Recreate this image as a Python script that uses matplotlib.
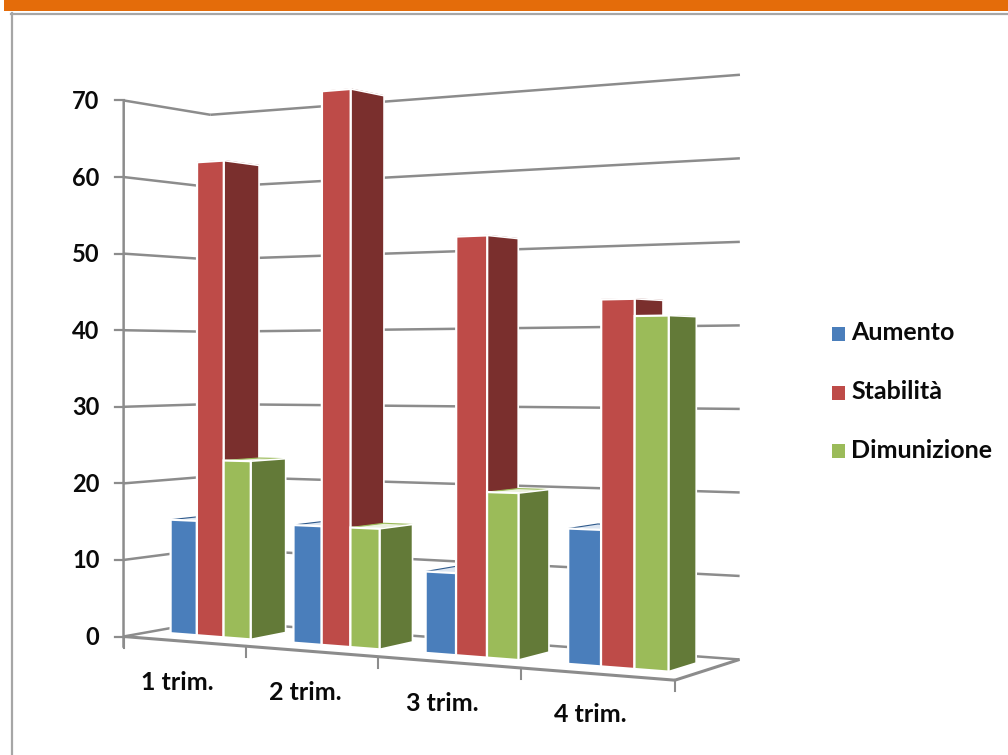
import numpy as np
import matplotlib
matplotlib.use("Agg")
import matplotlib.pyplot as plt
from matplotlib.patches import Rectangle

categories = ["1 trim.", "2 trim.", "3 trim.", "4 trim."]
aumento = [15, 15, 10, 16]
stabilita = [62, 70, 51, 43]
dimunizione = [23, 15, 20, 41]
series_names = ["Aumento", "Stabilità", "Dimunizione"]
y_ticks = [0, 10, 20, 30, 40, 50, 60, 70]

front_colors = ["#4A7EBB", "#BE4B48", "#9BBB59"]
side_colors = ["#2F5A8C", "#7A2F2D", "#637A38"]
top_colors = ["#DCE6F2", "#7A2F2D", "#EBF1DE"]
top_edges = ["#2F5A8C", "#7A2F2D", "#9BBB59"]
grid_color = "#8C8C8C"

# (category, depth, value) -> pixel pairs for the chart box
anchors_3d = np.array([
    [0, 0, 0], [0, 0, 70], [0, 1, 0], [0, 1, 70], [4, 1, 0], [4, 1, 70],
    [4, 0, 0], [1, 0, 0], [2, 0, 0], [3, 0, 0],
], dtype=float)
anchors_px = np.array([
    [124, 636], [124, 100], [210, 621], [210, 115], [740, 659], [740, 75],
    [675, 680], [246, 647], [378, 657], [520, 668],
], dtype=float)


def fit_camera(world, pixels):
    rows = []
    for (u, d, h), (x, y) in zip(world / [4, 1, 70], pixels / 1000):
        p = [u, d, h, 1]
        rows.append(p + [0, 0, 0, 0] + [-x * c for c in p])
        rows.append([0, 0, 0, 0] + p + [-y * c for c in p])
    return np.linalg.svd(np.array(rows))[2][-1].reshape(3, 4)


camera = fit_camera(anchors_3d, anchors_px)


def project(u, d, h):
    x, y, w = camera @ np.array([u / 4, d, h / 70, 1.0])
    return 1000 * x / w, 1000 * y / w


def face(ax, corners, color, zorder, edge="white", lw=1.6):
    pts = [project(*c) for c in corners]
    ax.fill(*zip(*pts), facecolor=color, edgecolor=edge, linewidth=lw, zorder=zorder, joinstyle="miter")


def line3d(ax, a, b, lw=1.8):
    xa, ya = project(*a)
    xb, yb = project(*b)
    ax.plot([xa, xb], [ya, yb], color=grid_color, lw=lw, zorder=1, solid_capstyle="butt")


fig = plt.figure(figsize=(10.08, 7.55), dpi=100)
ax = fig.add_axes([0, 0, 1, 1])
ax.set_xlim(0, 1008)
ax.set_ylim(755, 0)
ax.axis("off")

plt.rcParams["font.family"] = ["Lato", "DejaVu Sans"]

# slide header and frame
ax.add_patch(Rectangle((4, 0), 1004, 11, facecolor="#E46C0A", edgecolor="none"))
ax.plot([11, 1008], [13.5, 13.5], color="#A6A6A6", lw=1.6)
ax.plot([11.5, 11.5], [13, 755], color="#A6A6A6", lw=1.6)

# walls and floor
for v in y_ticks:
    line3d(ax, (0, 0, v), (0, 1, v))
    line3d(ax, (0, 1, v), (4, 1, v))
    x0, y0 = project(0, 0, v)
    ax.plot([x0 - 9, x0], [y0, y0], color=grid_color, lw=1.6, zorder=1)
    ax.text(x0 - 24, y0 + 1, str(v), ha="right", va="center", fontsize=17, fontweight="bold", color="#0A0A0A")
line3d(ax, (0, 0, 0), (4, 0, 0), lw=2.2)
line3d(ax, (4, 0, 0), (4, 1, 0), lw=2.2)
x0, y0 = project(0, 0, 0)
x1, y1 = project(0, 0, 70)
ax.plot([x0, x1], [y0 + 10, y1], color=grid_color, lw=1.8, zorder=1)
for i in range(5):
    x, y = project(i, 0, 0)
    ax.plot([x, x], [y, y + 11], color=grid_color, lw=1.5, zorder=1)

# bars, back to front within each quarter
bar_w = 0.22
d0, d1 = 0.30, 0.72
values = [aumento, stabilita, dimunizione]
z = 3
for i, name in enumerate(categories):
    start = i + 0.17
    for s in range(3):
        v = values[s][i]
        a = start + s * bar_w
        b = a + bar_w
        face(ax, [(a, d0, v), (b, d0, v), (b, d1, v), (a, d1, v)], top_colors[s], z, edge=top_edges[s], lw=0.8)
        face(ax, [(b, d0, 0), (b, d1, 0), (b, d1, v), (b, d0, v)], side_colors[s], z + 1, lw=1.2)
        face(ax, [(a, d0, 0), (b, d0, 0), (b, d0, v), (a, d0, v)], front_colors[s], z + 2)
        z += 3
    x, y = project(i + 0.5, 0, 0)
    ax.text(x - 6, y + 41, name, ha="center", va="center", fontsize=18, fontweight="bold", color="#0A0A0A")

# legend
for s, name in enumerate(series_names):
    y = 334 + s * 58.5
    ax.add_patch(Rectangle((832, y - 7), 13, 14, facecolor=front_colors[s], edgecolor="none"))
    ax.text(851, y - 1, name, ha="left", va="center", fontsize=18, fontweight="bold", color="#0A0A0A")

fig.savefig("out.png", dpi=100)
